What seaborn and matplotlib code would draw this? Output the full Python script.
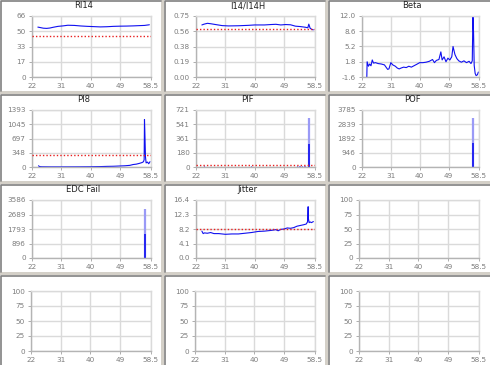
import numpy as np
import matplotlib
matplotlib.use("Agg")
import matplotlib.pyplot as plt
import seaborn as sns
from matplotlib.patches import Rectangle
from matplotlib.lines import Line2D

sns.set_theme(style="white")
plt.rcParams["font.family"] = ["Liberation Sans Narrow", "DejaVu Sans"]

W, H = 490, 365

x_ticks = [22, 31, 40, 49, 58.5]
x_labels = ["22", "31", "40", "49", "58.5"]

# --- data ---
ri14_x = [23.8, 24.5, 25.5, 26.5, 27.5, 28.5, 30, 31.5, 33, 35, 37, 39, 41, 43, 45, 47, 49, 51, 53, 55, 56.5, 58]
ri14_y = [54.0, 53.5, 52.8, 52.6, 53.0, 53.8, 54.8, 55.3, 56.0, 55.8, 55.2, 54.8, 54.5, 54.2, 54.4, 54.8, 55.0, 55.1, 55.3, 55.6, 55.8, 56.5]
ri14_limit = 44.5
ri14_ticks = ["0", "17", "33", "50", "66"]

i14_x = [23.8, 24.5, 25.5, 26.5, 28, 30, 32, 35, 38, 40, 43, 45, 46.5, 48, 49.5, 51, 52.5, 54, 55.5, 56.3, 56.6, 57, 57.5, 58]
i14_y = [0.640, 0.650, 0.660, 0.655, 0.645, 0.632, 0.628, 0.630, 0.635, 0.640, 0.640, 0.645, 0.648, 0.640, 0.645, 0.642, 0.625, 0.620, 0.612, 0.605, 0.650, 0.600, 0.585, 0.580]
i14_limit = 0.59
i14_ticks = ["0.00", "0.19", "0.38", "0.56", "0.75"]

beta_x = [23.5, 23.6, 24.0, 24.4, 24.8, 25.2, 25.6, 26.2, 27.0, 28.0, 29.0, 29.6, 30.0, 30.4, 31.0, 31.6, 32.4, 33.0, 33.6, 34.2, 35.0, 35.8, 36.6, 37.4, 38.2,
          39.0, 40.0, 41.0, 42.0, 43.0, 44.0, 44.6, 45.2, 46.0, 46.6, 47.0, 47.6, 48.2, 48.8, 49.4, 50.0, 50.4, 51.0, 51.6, 52.2, 53.0, 53.8, 54.6, 55.4,
          56.0, 56.4, 56.6, 56.8, 57.0, 57.3, 57.6, 58.0, 58.3]
beta_y = [-1.6, 1.8, 0.8, 1.3, 0.9, 2.2, 1.5, 1.6, 1.4, 1.3, 1.1, 0.5, 0.1, 0.2, 1.6, 1.1, 0.8, 0.4, 0.2, 0.4, 0.6, 0.5, 0.8, 0.6, 0.9,
          1.2, 1.6, 1.6, 1.7, 1.9, 2.3, 1.6, 2.1, 2.3, 4.0, 2.2, 2.9, 1.8, 2.6, 2.2, 2.9, 5.2, 3.4, 2.5, 2.0, 1.7, 2.0, 1.6, 1.9,
          1.4, 2.0, 12.0, 8.3, 1.0, -0.8, -1.3, -1.1, -0.5]
beta_ticks = ["-1.6", "1.8", "5.2", "8.6", "12.0"]

pi8_x = [24.0, 24.3, 25, 28, 32, 36, 40, 43, 45, 47, 49, 50.5, 52, 53, 54, 55, 55.8, 56.2, 56.4, 56.5, 56.6, 56.8, 57.0, 57.4, 57.8, 58.2]
pi8_y = [30, 10, 5, 3, 3, 4, 6, 10, 15, 18, 25, 30, 40, 60, 70, 90, 110, 130, 180, 1160, 900, 250, 100, 120, 80, 130]
pi8_limit = 290
pi8_ticks = ["0", "348", "697", "1045", "1393"]

pif_small_x = [24.5, 25.5, 27.5, 29.5, 32.5, 34, 39, 40, 44, 48.5, 49, 53, 53.5, 54, 54.5, 55, 55.5]
pif_small_h = [8, 6, 5, 6, 5, 6, 8, 6, 5, 6, 5, 8, 8, 8, 8, 8, 8]
pif_spike_x = 56.6
pif_spike_hi = 618
pif_spike_lo = 297
pif_limit = 20
pif_ticks = ["0", "180", "361", "541", "721"]

pof_spike_x = 56.6
pof_spike_hi = 3280
pof_spike_lo = 1600
pof_ticks = ["0", "946", "1892", "2839", "3785"]

edc_spike_x = 56.6
edc_spike_hi = 3020
edc_spike_lo = 1490
edc_ticks = ["0", "896", "1793", "2689", "3586"]

jit_x = [23.8, 24.2, 24.6, 25.5, 26.5, 27.5, 29, 31, 33, 35, 37, 39, 41, 43, 45, 46.5, 47.2, 48, 49, 50, 51, 52, 53, 54, 55, 55.8, 56.2, 56.4, 56.5, 56.7, 57.0, 57.4, 58.0]
jit_y = [7.6, 6.9, 7.1, 7.0, 7.2, 6.9, 6.9, 6.7, 6.8, 6.8, 7.0, 7.2, 7.5, 7.6, 7.8, 8.0, 7.7, 8.1, 8.2, 8.5, 8.4, 8.6, 9.0, 9.2, 9.4, 9.6, 10.2, 14.5, 11.0, 10.0, 10.2, 10.0, 10.3]
jit_limit = 8.2
jit_ticks = ["0.0", "4.1", "8.2", "12.3", "16.4"]

empty_ticks = ["0", "25", "50", "75", "100"]

# --- layout (pixels) ---
col_x = [0, 164, 328]
col_w = [161, 161, 162]
row_y = [0, 94, 184, 275]
row_h = [91, 87, 88, 90]

BG = "#D4D0C8"
BLUE = "#1010F0"
LIGHT = "#9A9AF6"
RED = "#E82020"
GRID = "#DADADA"
TXT = "#7C7C7C"

fig = plt.figure(figsize=(W / 100, H / 100), dpi=100, facecolor=BG)


def fx(px):
    return px / W


def fy(py):
    return 1 - py / H


def make_panel(r, c, title, ymax, ylabels, ymin=0.0, left=32):
    x0, y0, w, h = col_x[c], row_y[r], col_w[c], row_h[r]
    fig.add_artist(Rectangle((fx(x0), fy(y0 + h)), w / W, h / H, zorder=-5,
                             transform=fig.transFigure, facecolor="white", edgecolor="none"))
    fig.add_artist(Line2D([fx(x0 + 0.5), fx(x0 + 0.5), fx(x0 + w)],
                          [fy(y0 + h), fy(y0 + 0.5), fy(y0 + 0.5)], zorder=-4,
                          transform=fig.transFigure, color="#808080", lw=1.2))
    if title:
        fig.text(fx(x0 + w / 2 + 3), fy(y0 + 6), title, ha="center", va="center",
                 fontsize=6.0, color="#202020")
    a_l, a_r = x0 + left, x0 + 151
    a_t, a_b = y0 + 16, y0 + h - 14
    ax = fig.add_axes([fx(a_l), fy(a_b), (a_r - a_l) / W, (a_b - a_t) / H])
    ax.set_facecolor("white")
    ax.set_xlim(22, 58.5)
    ax.set_ylim(ymin, ymax)
    ax.set_xticks(x_ticks)
    ax.set_xticklabels(x_labels)
    ax.set_yticks(np.linspace(ymin, ymax, 5))
    ax.set_yticklabels(ylabels)
    ax.grid(True, color=GRID, lw=1.0)
    ax.tick_params(axis="both", labelsize=5.2, colors=TXT, length=2.5, width=0.6, pad=2.0,
                   left=True, bottom=True, color="#A0A0A0")
    for s in ax.spines.values():
        s.set_color(GRID)
        s.set_linewidth(1.0)
    ax.spines["left"].set_color("#B4B4B4")
    ax.spines["bottom"].set_color("#B4B4B4")
    ax.set_xlabel("")
    ax.set_ylabel("")
    return ax


def limit_line(ax, val):
    ax.axhline(val, color=RED, lw=1.0, ls=(0, (1, 1.5)), zorder=3)


# row 1
ax = make_panel(0, 0, "RI14", 66, ri14_ticks)
limit_line(ax, ri14_limit)
sns.lineplot(x=ri14_x, y=ri14_y, ax=ax, color=BLUE, lw=0.8)

ax = make_panel(0, 1, "I14/I14H", 0.75, i14_ticks)
limit_line(ax, i14_limit)
sns.lineplot(x=i14_x, y=i14_y, ax=ax, color=BLUE, lw=0.8)

ax = make_panel(0, 2, "Beta", 12.0, beta_ticks, ymin=-1.6, left=34)
sns.lineplot(x=beta_x, y=beta_y, ax=ax, color=BLUE, lw=0.8, sort=False)

# row 2
ax = make_panel(1, 0, "PI8", 1393, pi8_ticks)
limit_line(ax, pi8_limit)
sns.lineplot(x=pi8_x, y=pi8_y, ax=ax, color=BLUE, lw=0.8, sort=False)

ax = make_panel(1, 1, "PIF", 721, pif_ticks)
limit_line(ax, pif_limit)
ax.vlines(pif_small_x, 0, pif_small_h, color=BLUE, lw=0.8)
ax.vlines(pif_spike_x, 0, pif_spike_hi, color=LIGHT, lw=1.6)
ax.vlines(pif_spike_x, 0, pif_spike_lo, color=BLUE, lw=1.2)

ax = make_panel(1, 2, "POF", 3785, pof_ticks, left=34)
ax.vlines(pof_spike_x, 0, pof_spike_hi, color=LIGHT, lw=1.6)
ax.vlines(pof_spike_x, 0, pof_spike_lo, color=BLUE, lw=1.2)

# row 3
ax = make_panel(2, 0, "EDC Fail", 3586, edc_ticks)
ax.vlines(edc_spike_x, 0, edc_spike_hi, color=LIGHT, lw=1.6)
ax.vlines(edc_spike_x, 0, edc_spike_lo, color=BLUE, lw=1.2)

ax = make_panel(2, 1, "Jitter", 16.4, jit_ticks)
limit_line(ax, jit_limit)
sns.lineplot(x=jit_x, y=jit_y, ax=ax, color=BLUE, lw=0.8, sort=False)

make_panel(2, 2, "", 100, empty_ticks, left=31)

# row 4
for c in range(3):
    make_panel(3, c, "", 100, empty_ticks, left=31)

fig.savefig("out.png", dpi=100, facecolor=BG)
